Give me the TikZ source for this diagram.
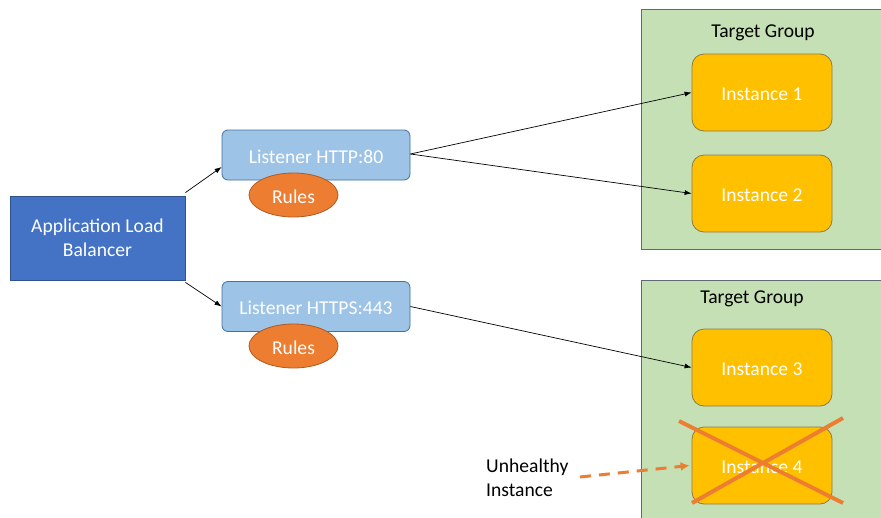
\documentclass[tikz,border=0pt]{standalone}
\usepackage{fontspec}
\setmainfont{Carlito}
\usetikzlibrary{arrows.meta,shapes.geometric}
\definecolor{albblue}{HTML}{4472C4}
\definecolor{albedge}{HTML}{2F528F}
\definecolor{lisfill}{HTML}{9DC3E6}
\definecolor{lisedge}{HTML}{41719C}
\definecolor{rulefill}{HTML}{ED7D31}
\definecolor{ruleedge}{HTML}{AE5A21}
\definecolor{grpfill}{HTML}{C5E0B4}
\definecolor{grpedge}{HTML}{5F6B6F}
\definecolor{instfill}{HTML}{FFC000}
\definecolor{instedge}{HTML}{8C7A4A}
\tikzset{
  base/.style={font=\fontsize{19.6}{23.5}\selectfont, text=white, inner sep=0pt},
  oneline/.style={text height=16pt, text depth=0pt},
  albbox/.style={base, draw=albedge, fill=albblue, line width=0.8pt,
    minimum width=175pt, minimum height=84pt, align=center},
  listener/.style={base, oneline, draw=lisedge, fill=lisfill, line width=0.8pt,
    rounded corners=6pt, minimum width=188pt, minimum height=50pt},
  rulesoval/.style={base, oneline, ellipse, draw=ruleedge, fill=rulefill, line width=0.8pt,
    minimum width=89pt, minimum height=44pt},
  group/.style={draw=grpedge, fill=grpfill, line width=0.8pt},
  instance/.style={base, oneline, draw=instedge, fill=instfill, line width=0.8pt,
    rounded corners=12pt, minimum width=140pt, minimum height=77pt},
  grouptitle/.style={base, text=black},
  link/.style={draw=black, line width=0.7pt, -{Latex[length=7pt,width=5pt]}},
  cross/.style={draw=rulefill, line width=4pt},
  warn/.style={draw=rulefill, line width=3pt, dash pattern=on 11pt off 8pt,
    -{Latex[length=9pt,width=9pt]}}
}
\begin{document}
\begin{tikzpicture}[x=1pt,y=-1pt]
\useasboundingbox (0,0) rectangle (881,517);
\clip (0,0) rectangle (881,517);
\fill[white] (0,0) rectangle (881,517);

% target group containers
\draw[group] (641,9) rectangle (884,249);
\draw[group] (641,280) rectangle (884,530);
\node[grouptitle] (tg1) at (763,33) {Target Group};
\node[grouptitle] (tg2) at (752,299) {Target Group};

% load balancer and listeners
\node[albbox] (alb) at (97.5,238) {Application Load\\Balancer};
\node[listener] (l1) at (316,155) {Listener HTTP:80};
\node[listener] (l2) at (316,306.5) {Listener HTTPS:443};
\node[rulesoval] (r1) at (293.5,195) {Rules};
\node[rulesoval] (r2) at (293.5,346) {Rules};

% instances
\node[instance] (i1) at (762,92.5) {Instance 1};
\node[instance] (i2) at (762,193.5) {Instance 2};
\node[instance] (i3) at (762,367.5) {Instance 3};
\node[instance] (i4) at (762,465.5) {Instance 4};

% routing (shifts are in TeX's upward sense)
\coordinate (a1) at ([yshift=3pt]alb.north east);
\coordinate (a2) at ([yshift=-2pt]alb.south east);
\draw[link] (a1) -- ([yshift=-12pt]l1.west);
\draw[link] (a2) -- (l2.west);
\draw[link] ([yshift=1pt]l1.east) -- (i1.west);
\draw[link] ([yshift=1pt]l1.east) -- (i2.west);
\draw[link] (l2.east) -- (i3.west);

% failed instance
\coordinate (c1) at (679,421);
\coordinate (c2) at (843,503);
\coordinate (c3) at (692,503);
\coordinate (c4) at (843,418);
\draw[cross] (c1) -- (c2);
\draw[cross] (c3) -- (c4);

\node[grouptitle, align=left, anchor=west] (bad) at (486,478) {Unhealthy\\Instance};
\coordinate (w) at (580,477);
\draw[warn] (w) -- ([xshift=-2pt]i4.west);
\end{tikzpicture}
\end{document}
